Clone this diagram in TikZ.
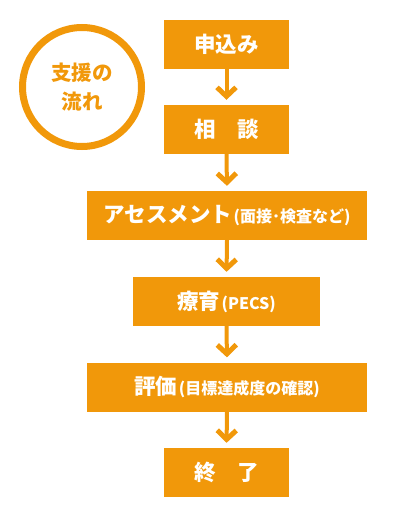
\documentclass[tikz,border=0pt]{standalone}
\usepackage{fontspec}
\newfontfamily\jp{Noto Sans CJK JP}[BoldFont={Noto Sans CJK JP Black}]
\usetikzlibrary{arrows.meta}

\definecolor{flowor}{RGB}{241,152,10}
\newcommand\subnote[1]{{\hspace{1.5pt}\fontsize{16}{18}\selectfont #1}}

\tikzset{
  box/.style={fill=flowor,text=white,inner sep=0pt,minimum height=49pt,font=\jp\bfseries\fontsize{21.5}{24}\selectfont},
  flow/.style={draw=flowor,line width=4pt,shorten >=5pt,-{Straight Barb[length=9pt,width=19pt,line width=5pt]}}
}

\begin{document}
\begin{tikzpicture}[x=1pt,y=-1pt]
            \useasboundingbox (0,0) rectangle (400,511);

            % title circle
            \node (title) [circle,draw=flowor,line width=7pt,minimum size=119pt,inner sep=0pt,
                text=flowor,align=center,font=\jp\bfseries\fontsize{20.5}{29}\selectfont] at (82,87) {支援の\\流れ};

            % steps
            \node (s1) [box,minimum width=125pt] at (226.5,44.5) {申込み};
            \node (s2) [box,minimum width=125pt] at (226.5,129.5) {相　談};
            \node (s3) [box,minimum width=280pt] at (227,215.5) {アセスメント\subnote{(面接･検査など)}};
            \node (s4) [box,minimum width=187pt] at (226.5,301.5) {療育\subnote{(PECS)}};
            \node (s5) [box,minimum width=280pt] at (227,387) {評価\subnote{(目標達成度の確認)}};
            \node (s6) [box,minimum width=125pt] at (226.5,472.5) {終　了};

            \foreach \a/\b in {s1/s2,s2/s3,s3/s4,s4/s5,s5/s6}
                \draw[flow] (\a.south) -- (\b.north);

        \end{tikzpicture}
\end{document}
